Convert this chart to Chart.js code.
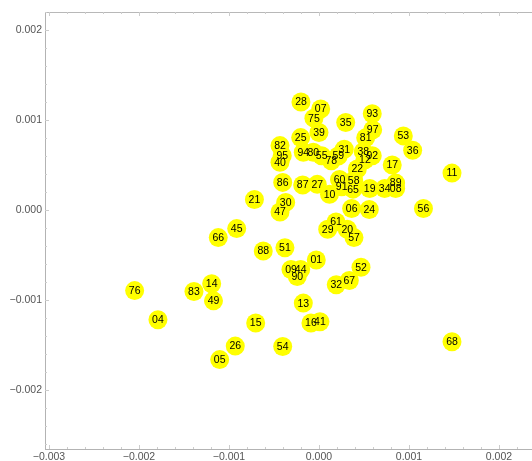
<!DOCTYPE html>
<html><head><meta charset="utf-8">
<script src="https://cdn.jsdelivr.net/npm/chart.js@4"></script>
<style>html,body{margin:0;padding:0;background:#fff;}canvas{display:block;}</style>
</head><body>
<canvas id="c" width="532" height="461"></canvas>
<script>
const pointLabels = ["28","07","75","35","93","97","81","53","36","25","39","82","95","40","94","80","55","78","59","31","38","12","92","22","17","86","87","27","10","60","58","91","65","19","34","08","89","11","21","30","47","06","24","56","61","29","20","57","66","45","88","51","01","09","44","90","52","67","32","13","76","83","14","49","04","15","16","41","26","05","54","68"];
const xValues = [-0.000200,0.000019,-0.000056,0.000297,0.000592,0.000597,0.000519,0.000937,0.001041,-0.000203,0.000000,-0.000433,-0.000408,-0.000433,-0.000174,-0.000063,0.000030,0.000137,0.000214,0.000281,0.000492,0.000511,0.000592,0.000426,0.000814,-0.000403,-0.000181,-0.000019,0.000117,0.000228,0.000386,0.000252,0.000378,0.000563,0.000730,0.000852,0.000852,0.001478,-0.000717,-0.000370,-0.000433,0.000363,0.000559,0.001161,0.000189,0.000097,0.000314,0.000389,-0.001119,-0.000914,-0.000619,-0.000378,-0.000030,-0.000311,-0.000203,-0.000241,0.000467,0.000337,0.000192,-0.000174,-0.002048,-0.001389,-0.001192,-0.001172,-0.001789,-0.000703,-0.000089,0.000011,-0.000930,-0.001103,-0.000403,0.001478];
const yValues = [0.001201,0.001123,0.001022,0.000973,0.001070,0.000892,0.000803,0.000825,0.000666,0.000806,0.000862,0.000717,0.000605,0.000532,0.000643,0.000643,0.000605,0.000550,0.000602,0.000677,0.000650,0.000561,0.000605,0.000457,0.000502,0.000309,0.000279,0.000287,0.000176,0.000340,0.000331,0.000260,0.000234,0.000242,0.000242,0.000242,0.000301,0.000412,0.000119,0.000087,-0.000019,0.000019,0.000008,0.000019,-0.000130,-0.000212,-0.000212,-0.000304,-0.000304,-0.000204,-0.000452,-0.000416,-0.000552,-0.000658,-0.000658,-0.000736,-0.000632,-0.000780,-0.000827,-0.001031,-0.000892,-0.000903,-0.000817,-0.001006,-0.001215,-0.001252,-0.001251,-0.001237,-0.001508,-0.001658,-0.001513,-0.001460];
const xTickValues = [-0.003,-0.002,-0.001,0,0.001,0.002];
const yTickValues = [-0.002,-0.001,0,0.001,0.002];
const minorStep = 0.0002;

const FONT = 'Liberation Sans, Arial, Helvetica, sans-serif';
const fmt = v => (Math.abs(v) < 1e-12 ? '0.000' : (v < 0 ? '\u2212' : '') + Math.abs(v).toFixed(3));

const framePlugin = {
  id: 'frame',
  beforeDatasetsDraw(chart) {
    const {ctx, chartArea: a, scales: {x, y}} = chart;
    ctx.save();
    ctx.strokeStyle = '#b8b8b8';
    ctx.lineWidth = 1;
    ctx.beginPath();
    ctx.moveTo(a.left, a.top + 0.5);
    ctx.lineTo(a.right, a.top + 0.5);
    ctx.stroke();
    ctx.strokeStyle = '#cccccc';
    ctx.beginPath();
    for (let i = -16; i <= 13; i++) {
      const v = i * minorStep;
      if (v < x.min || v > x.max) continue;
      const len = (i % 5 === 0) ? 4 : 2;
      const px = Math.round(x.getPixelForValue(v)) + 0.5;
      ctx.moveTo(px, a.bottom); ctx.lineTo(px, a.bottom - len);
      ctx.moveTo(px, a.top); ctx.lineTo(px, a.top + len);
    }
    for (let i = -14; i <= 12; i++) {
      const v = i * minorStep;
      if (v < y.min || v > y.max) continue;
      const len = (i % 5 === 0) ? 4 : 2;
      const py = Math.round(y.getPixelForValue(v)) + 0.5;
      ctx.moveTo(a.left, py); ctx.lineTo(a.left + len, py);
    }
    ctx.stroke();
    ctx.restore();
  },
  afterDatasetsDraw(chart) {
    const {ctx} = chart;
    const meta = chart.getDatasetMeta(0);
    ctx.save();
    ctx.fillStyle = '#000';
    ctx.font = '10.5px ' + FONT;
    ctx.textAlign = 'center';
    ctx.textBaseline = 'middle';
    meta.data.forEach((pt, i) => {
      ctx.fillText(pointLabels[i], pt.x, pt.y + 0.5);
    });
    ctx.restore();
  }
};

new Chart(document.getElementById('c'), {
  type: 'scatter',
  data: {
    datasets: [{
      data: xValues.map((v, i) => ({x: v, y: yValues[i]})),
      backgroundColor: '#ffff00',
      borderWidth: 0,
      pointRadius: 9.5,
      pointHoverRadius: 9.5
    }]
  },
  options: {
    responsive: false,
    animation: false,
    events: [],
    layout: {autoPadding: false, padding: {top: 12, right: 0, left: 0, bottom: 0}},
    plugins: {legend: {display: false}, tooltip: {enabled: false}},
    scales: {
      x: {
        type: 'linear', min: -0.003044, max: 0.002367,
        afterBuildTicks: s => { s.ticks = xTickValues.map(v => ({value: v})); },
        afterFit: s => { s.height = 12; },
        grid: {display: false, drawTicks: false},
        border: {display: true, color: '#b3b3b3', width: 1},
        ticks: {padding: 2, color: '#555', font: {family: FONT, size: 10.5}, callback: fmt, maxRotation: 0, autoSkip: false}
      },
      y: {
        type: 'linear', min: -0.00265, max: 0.0022,
        afterBuildTicks: s => { s.ticks = yTickValues.map(v => ({value: v})); },
        afterFit: s => { s.width = 45; },
        grid: {display: false, drawTicks: false},
        border: {display: true, color: '#b3b3b3', width: 1},
        ticks: {padding: 3, color: '#555', font: {family: FONT, size: 10.5}, callback: fmt, autoSkip: false}
      }
    }
  },
  plugins: [framePlugin]
});
</script>
</body></html>
